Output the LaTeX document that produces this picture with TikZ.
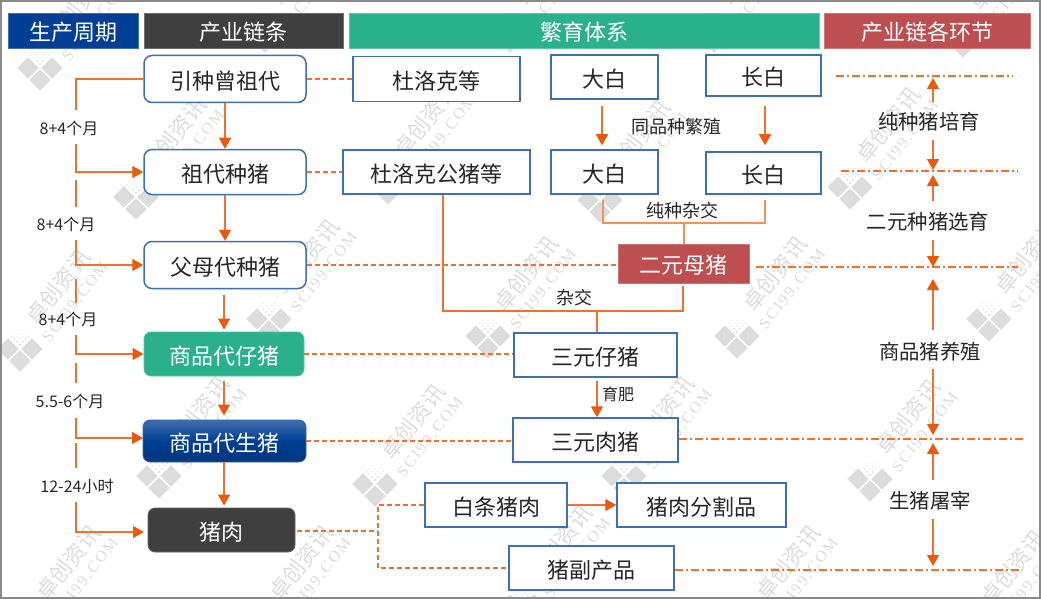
\documentclass[tikz,border=0pt]{standalone}
\usepackage{fontspec}
\setmainfont{Noto Sans CJK SC}
\newfontfamily\wmlatin[LetterSpace=12]{Liberation Serif}
\usetikzlibrary{arrows.meta}
\definecolor{hblue}{HTML}{003F93}
\definecolor{hdark}{HTML}{3F3F3F}
\definecolor{hgreen}{HTML}{2BB08C}
\definecolor{hred}{HTML}{BE4F50}
\definecolor{bline}{HTML}{3D6FB4}
\definecolor{oline}{HTML}{F0702C}
\definecolor{opale}{HTML}{F58F5C}
\definecolor{otip}{HTML}{EB5A0C}
\definecolor{wmgray}{HTML}{DCDCDC}
\definecolor{frame}{HTML}{8A8A8A}
\tikzset{
  big/.style={font=\fontsize{22}{24}\selectfont,text height=23.4pt,text depth=2.6pt},
  hdr/.style={big,fill=#1,draw=#1!75!white,line width=.6pt,text=white,inner sep=0pt},
  rbox/.style={big,draw=bline,fill=white,line width=1.5pt,rounded corners=8pt,inner sep=0pt,text=black!85},
  fbox/.style={big,draw=bline,fill=white,line width=1.5pt,inner sep=0pt,text=black!85},
  sbox/.style={big,fill=#1,draw=#1!80!white,line width=.8pt,rounded corners=7pt,inner sep=0pt,text=white},
  sm/.style={inner sep=0pt,font=\fontsize{16}{18}\selectfont,text=black!85},
  mid/.style={inner sep=0pt,font=\fontsize{18}{20}\selectfont,text=black!85},
  stage/.style={inner sep=0pt,font=\fontsize{20.4}{22}\selectfont,text=black!85},
  sol/.style={draw=oline,line width=1.3pt},
  pale/.style={draw=opale,line width=1.4pt},
  arr/.style={draw=oline,line width=1.3pt,-{Triangle[length=11pt,width=12pt,fill=otip,color=otip]}},
  dsh/.style={draw=oline,line width=1.5pt,dash pattern=on 5pt off 3pt},
  dd/.style={draw=oline,line width=1.2pt,dash pattern=on 8pt off 3pt on 2pt off 3pt},
}
\newcommand{\wmark}[3]{%
  \begin{scope}[shift={(#2,#3)},rotate=45]
    \fill[wmgray] (-16,-16) rectangle (-1,-1);
    \fill[wmgray] (1,1) rectangle (16,16);
    \fill[wmgray] (-16,1) rectangle (-1,16);
    \foreach \a in {3,7,11,15}{\foreach \b in {3,7,11,15}{
      \fill[wmgray] (\a,-\b) circle ({0.4+(24-\a-\b)*0.05});
    }}
  \end{scope}
  \node[rotate=52,text=wmgray,inner sep=0pt,font=\fontsize{22}{24}\selectfont] (wt#1) at (#2+38,#3-62) {卓创资讯};
  \node[rotate=52,text=wmgray,inner sep=0pt,font=\wmlatin\fontsize{16}{18}\selectfont] (ws#1) at (#2+55,#3-47) {SCI99.COM};
}
\begin{document}
\begin{tikzpicture}[x=1pt,y=-1pt]
\path[use as bounding box] (0,0) rectangle (1041,599);
\fill[white] (0,0) rectangle (1041,599);
% watermarks
\begin{scope}
\clip (0,0) rectangle (1041,599);
\wmark{a}{40}{68}\wmark{b}{265}{30}\wmark{c}{714}{30}\wmark{d}{963}{35}\wmark{e}{510}{30}
\wmark{f}{136}{197}\wmark{g}{388}{182}\wmark{h}{600}{200}\wmark{i}{850}{187}
\wmark{j}{20}{349}\wmark{k}{269}{319}\wmark{l}{488}{336}\wmark{m}{737}{336}\wmark{n}{989}{319}
\wmark{o}{159}{476}\wmark{p}{375}{484}\wmark{q}{624}{476}\wmark{r}{870}{479}
\wmark{s}{30}{625}\wmark{t}{263}{625}\wmark{u}{522}{605}\wmark{v}{750}{625}\wmark{w}{975}{630}
\end{scope}
% headers
\node[hdr=hblue,minimum width=130pt,minimum height=35pt] (h1) at (73,30.5) {生产周期};
\node[hdr=hdark,minimum width=199pt,minimum height=35pt] (h2) at (243.5,30.5) {产业链条};
\node[hdr=hgreen,minimum width=470pt,minimum height=35pt] (h3) at (584,30.5) {繁育体系};
\node[hdr=hred,minimum width=206pt,minimum height=35pt] (h4) at (927,30.5) {产业链各环节};
% chain
\node[rbox,minimum width=162pt,minimum height=47pt] (g1) at (225,79) {引种曾祖代};
\node[rbox,minimum width=162pt,minimum height=45pt] (g2) at (225,172) {祖代种猪};
\node[rbox,minimum width=162pt,minimum height=47pt] (g3) at (225,265) {父母代种猪};
\node[sbox=hgreen,minimum width=160pt,minimum height=44pt] (g4) at (224,354) {商品代仔猪};
\node[big,rounded corners=7pt,top color=hblue!75!white,bottom color=hblue!85!black,middle color=hblue,draw=hblue!80!white,line width=.8pt,inner sep=0pt,text=white,minimum width=163pt,minimum height=42pt] (g5) at (224.5,441) {商品代生猪};
\node[sbox=hdark,minimum width=147pt,minimum height=44pt] (g6) at (221.5,530) {猪肉};
% breeding
\node[fbox,minimum width=167pt,minimum height=45pt] (d1) at (436.5,79) {杜洛克等};
\node[fbox,minimum width=107pt,minimum height=44pt] (w1) at (604.5,77) {大白};
\node[fbox,minimum width=115pt,minimum height=41pt] (l1) at (763.5,75.5) {长白};
\node[fbox,minimum width=187pt,minimum height=44pt] (d2) at (436.5,172) {杜洛克公猪等};
\node[fbox,minimum width=107pt,minimum height=44pt] (w2) at (604.5,172) {大白};
\node[fbox,minimum width=115pt,minimum height=42pt] (l2) at (763.5,173) {长白};
\node[big,fill=hred,draw=hred!80!white,line width=.6pt,inner sep=0pt,text=white,minimum width=131pt,minimum height=39pt] (f1) at (683.5,263.5) {二元母猪};
\node[fbox,minimum width=163pt,minimum height=44pt] (t1) at (595.5,355) {三元仔猪};
\node[fbox,minimum width=165pt,minimum height=44pt] (t2) at (595.5,440) {三元肉猪};
\node[fbox,minimum width=142pt,minimum height=44pt] (c1) at (496,505) {白条猪肉};
\node[fbox,minimum width=169pt,minimum height=44pt] (c2) at (701.5,505) {猪肉分割品};
\node[fbox,minimum width=165pt,minimum height=44pt] (c3) at (591.5,568) {猪副产品};
% labels
\node[sm] (m1) at (69,128) {8+4个月};
\node[sm] (m2) at (66,224) {8+4个月};
\node[sm] (m3) at (68,319) {8+4个月};
\node[sm] (m4) at (70,401) {5.5-6个月};
\node[sm] (m5) at (77,486) {12-24小时};
\node[mid] (b1) at (676,127) {同品种繁殖};
\node[mid] (b2) at (682,211) {纯种杂交};
\node[mid] (b3) at (574,298) {杂交};
\node[inner sep=0pt,font=\fontsize{16}{18}\selectfont,text=black!85] (b4) at (618,394) {育肥};
\node[stage] (s1) at (929,122) {纯种猪培育};
\node[stage] (s2) at (928,222) {二元种猪选育};
\node[stage] (s3) at (930,352) {商品猪养殖};
\node[stage] (s4) at (930,501) {生猪屠宰};
% coordinates of free ends
\coordinate (a1) at (76,110);\coordinate (a2) at (76,144);
\coordinate (a3) at (76,180);\coordinate (a4) at (76,207);\coordinate (a5) at (76,240);
\coordinate (a6) at (76,279);\coordinate (a7) at (76,303);\coordinate (a8) at (76,335);
\coordinate (a9) at (76,363);\coordinate (a10) at (76,383);\coordinate (a11) at (76,418);
\coordinate (a12) at (76,443);\coordinate (a13) at (76,468);\coordinate (a14) at (76,502);
\coordinate (t5) at (143,438);\coordinate (t6) at (144,532);
\coordinate (e1) at (836,76);\coordinate (e1b) at (1013,76);
\coordinate (e2) at (841,171);\coordinate (e2b) at (1018,171);
\coordinate (e3) at (756,267);\coordinate (e3b) at (1018,267);
\coordinate (e4) at (679,439);\coordinate (e4b) at (1024,439);
\coordinate (e5) at (675,570);\coordinate (e5b) at (1022,570);
\coordinate (j1) at (378,531);\coordinate (m6) at (297,531);
\coordinate (w3) at (603,223);\coordinate (l3) at (765,223);\coordinate (f0) at (684,223);
\coordinate (x1) at (443,311);\coordinate (x2) at (683,311);\coordinate (x3) at (597,311);
\coordinate (q1) at (602,0);\coordinate (q2) at (765,0);
\coordinate (u1a) at (933,102);\coordinate (u1b) at (933,78);
\coordinate (u2a) at (933,140);\coordinate (u2b) at (933,170);
\coordinate (u3a) at (933,201);\coordinate (u3b) at (933,175);
\coordinate (u4a) at (933,240);\coordinate (u4b) at (933,267);
\coordinate (u5a) at (933,330);\coordinate (u5b) at (933,279);
\coordinate (u6a) at (933,369);\coordinate (u6b) at (933,435);
\coordinate (u7a) at (933,480);\coordinate (u7b) at (933,443);
\coordinate (u8a) at (933,519);\coordinate (u8b) at (933,566);
% chain arrows
\draw[arr] (g1.south) -- (g2.north);
\draw[arr] (g2.south) -- (g3.north);
\draw[arr,shorten <=6pt,shorten >=2pt] (g3.south -| g4.north) -- (g4.north);
\draw[arr,shorten <=5pt,shorten >=4pt] (g4.south) -- (g4.south |- g5.north);
\draw[arr,shorten >=2pt] (g4.south |- g5.south) -- (g4.south |- g6.north);
% period brackets
\draw[sol] (g1.west) -| (a1);
\draw[arr] (a2) |- (g2.west);
\draw[sol] (a3) -- (a4);
\draw[arr] (a5) |- (g3.west);
\draw[sol] (a6) -- (a7);
\draw[arr] (a8) |- (g4.west);
\draw[sol] (a9) -- (a10);
\draw[arr] (a11) |- (t5);
\draw[sol] (a12) -- (a13);
\draw[arr] (a14) |- (t6);
% dashed links
\draw[dsh] (g1.east) -- (d1.west);
\draw[dsh] (g2.east) -- (d2.west);
\draw[dsh] (g3.east) -- (g3.east -| f1.west);
\draw[dsh] (g4.east) -- (g4.east -| t1.west);
\draw[dsh] (g5.east) -- (g5.east -| t2.west);
\draw[dsh] (m6) -- (j1);
\draw[dsh] (c1.west) -| (j1);
\draw[dsh] (j1) |- (c3.west);
% dash-dot rules
\draw[dd] (e1) -- (e1b);
\draw[dd] (e2) -- (e2b);
\draw[dd] (e3) -- (e3b);
\draw[dd] (e4) -- (e4b);
\draw[dd] (e5) -- (e5b);
% breeding arrows
\draw[arr,shorten <=6pt,shorten >=4pt] (w1.south -| q1) -- (w2.north -| q1);
\draw[arr,shorten <=9pt,shorten >=6pt] (l1.south -| q2) -- (l2.north -| q2);
\draw[pale,shorten <=5pt,shorten >=5pt] (w2.south -| w3) -- (w3) -- (l3) -- (l2.south -| l3);
\draw[pale] (f0) -- (f1.north -| f0);
\draw[sol,shorten >=3pt] (x1 |- d2.south) -- (x1) -- (x2) -- (x2 |- f1.south);
\draw[sol] (x3) -- (x3 |- t1.north);
\draw[arr,shorten <=3pt] (t1.south -| x3) -- (t2.north -| x3);
\draw[arr] (c1.east) -- (c2.west);
% stage arrows
\draw[arr] (u1a) -- (u1b);
\draw[arr] (u2a) -- (u2b);
\draw[arr] (u3a) -- (u3b);
\draw[arr] (u4a) -- (u4b);
\draw[arr] (u5a) -- (u5b);
\draw[arr] (u6a) -- (u6b);
\draw[arr] (u7a) -- (u7b);
\draw[arr] (u8a) -- (u8b);
% frame
\draw[frame,line width=2pt] (1,1) rectangle (1040,597.5);
\end{tikzpicture}
\end{document}
